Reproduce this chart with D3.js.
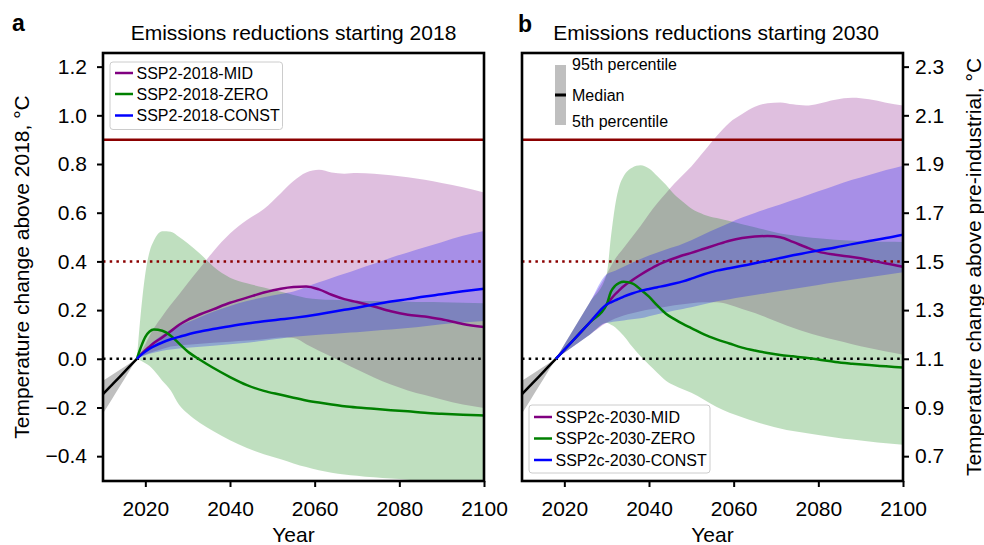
<!DOCTYPE html>
<html><head><meta charset="utf-8">
<script src="https://cdn.jsdelivr.net/npm/d3@7"></script>
<style>body{margin:0;background:#fff}svg{display:block;font-family:"Liberation Sans",Arial,Helvetica,sans-serif}</style>
</head><body><svg id="c" width="984" height="545"></svg>
<script>
// ---------- DATA ----------
const histYears = [2010, 2012, 2014, 2016, 2018];
const histMed = [-0.145, -0.109, -0.073, -0.036, 0];
const histLo  = [-0.225, -0.169, -0.113, -0.056, 0];
const histHi  = [-0.09, -0.068, -0.045, -0.022, 0];

const yearsA = [2018, 2019, 2020, 2021, 2022, 2024, 2026, 2028, 2030, 2033, 2036, 2040, 2044, 2048, 2052, 2055, 2058, 2061, 2064, 2067, 2070, 2074, 2078, 2082, 2086, 2090, 2095, 2100];
const aMidMed = [0, 0.018, 0.035, 0.05, 0.065, 0.088, 0.113, 0.14, 0.16, 0.183, 0.203, 0.23, 0.251, 0.272, 0.288, 0.295, 0.297, 0.285, 0.263, 0.245, 0.233, 0.215, 0.195, 0.181, 0.174, 0.162, 0.143, 0.13];
const aMidHi  = [0, 0.03, 0.06, 0.095, 0.125, 0.175, 0.222, 0.265, 0.31, 0.375, 0.44, 0.515, 0.57, 0.615, 0.68, 0.73, 0.765, 0.776, 0.765, 0.76, 0.763, 0.76, 0.754, 0.746, 0.735, 0.722, 0.705, 0.683];
const aMidLo  = [0, 0.01, 0.017, 0.024, 0.03, 0.04, 0.05, 0.055, 0.058, 0.062, 0.066, 0.07, 0.075, 0.08, 0.087, 0.085, 0.06, 0.033, 0.008, -0.018, -0.044, -0.077, -0.106, -0.13, -0.149, -0.167, -0.188, -0.202];
const aZeroMed = [0, 0.05, 0.09, 0.112, 0.12, 0.115, 0.095, 0.062, 0.03, -0.005, -0.037, -0.075, -0.108, -0.132, -0.148, -0.16, -0.171, -0.18, -0.188, -0.195, -0.2, -0.205, -0.211, -0.216, -0.222, -0.226, -0.23, -0.233];
const aZeroHi  = [0, 0.2, 0.35, 0.44, 0.485, 0.524, 0.522, 0.5, 0.475, 0.43, 0.38, 0.333, 0.31, 0.293, 0.275, 0.262, 0.25, 0.245, 0.242, 0.24, 0.238, 0.237, 0.236, 0.234, 0.233, 0.232, 0.23, 0.228];
const aZeroLo  = [0, -0.008, -0.018, -0.03, -0.047, -0.09, -0.13, -0.19, -0.225, -0.265, -0.297, -0.335, -0.366, -0.392, -0.413, -0.43, -0.445, -0.458, -0.468, -0.475, -0.48, -0.487, -0.492, -0.497, -0.502, -0.505, -0.508, -0.51];
const aConstMed = [0, 0.016, 0.03, 0.042, 0.051, 0.067, 0.08, 0.09, 0.1, 0.112, 0.122, 0.134, 0.145, 0.154, 0.162, 0.168, 0.175, 0.183, 0.192, 0.201, 0.21, 0.223, 0.235, 0.245, 0.256, 0.265, 0.277, 0.288];
const aConstHi  = [0, 0.02, 0.04, 0.058, 0.072, 0.098, 0.12, 0.136, 0.15, 0.172, 0.193, 0.217, 0.237, 0.253, 0.266, 0.276, 0.295, 0.314, 0.332, 0.349, 0.367, 0.39, 0.415, 0.437, 0.458, 0.479, 0.505, 0.525];
const aConstLo  = [0, 0.008, 0.015, 0.021, 0.025, 0.033, 0.038, 0.042, 0.045, 0.049, 0.054, 0.06, 0.066, 0.074, 0.083, 0.09, 0.095, 0.099, 0.102, 0.106, 0.109, 0.115, 0.12, 0.126, 0.134, 0.142, 0.149, 0.155];

const yearsB = [2018, 2022, 2026, 2030, 2031, 2032, 2033, 2034, 2036, 2038, 2040, 2042, 2044, 2046, 2048, 2050, 2053, 2056, 2059, 2062, 2065, 2068, 2071, 2074, 2077, 2080, 2084, 2088, 2092, 2096, 2100];
const bMidMed = [0, 0.074, 0.149, 0.223, 0.245, 0.265, 0.282, 0.298, 0.322, 0.345, 0.366, 0.385, 0.4, 0.413, 0.425, 0.435, 0.452, 0.469, 0.485, 0.496, 0.502, 0.504, 0.499, 0.48, 0.459, 0.44, 0.427, 0.418, 0.406, 0.391, 0.378];
const bMidHi  = [0, 0.116, 0.231, 0.347, 0.38, 0.41, 0.433, 0.455, 0.5, 0.545, 0.595, 0.64, 0.68, 0.72, 0.755, 0.79, 0.852, 0.915, 0.97, 1.005, 1.035, 1.05, 1.053, 1.045, 1.04, 1.048, 1.064, 1.072, 1.066, 1.052, 1.04];
const bMidLo  = [0, 0.049, 0.099, 0.148, 0.157, 0.165, 0.172, 0.178, 0.187, 0.195, 0.202, 0.208, 0.214, 0.22, 0.224, 0.228, 0.232, 0.232, 0.222, 0.205, 0.188, 0.168, 0.147, 0.127, 0.11, 0.095, 0.077, 0.06, 0.044, 0.03, 0.017];
const bZeroMed = [0, 0.074, 0.149, 0.223, 0.275, 0.3, 0.312, 0.316, 0.31, 0.285, 0.255, 0.218, 0.185, 0.163, 0.143, 0.126, 0.1, 0.08, 0.063, 0.046, 0.034, 0.024, 0.016, 0.01, 0.004, -0.003, -0.013, -0.02, -0.026, -0.031, -0.036];
const bZeroHi  = [0, 0.116, 0.231, 0.347, 0.5, 0.63, 0.71, 0.75, 0.785, 0.795, 0.782, 0.75, 0.715, 0.675, 0.645, 0.617, 0.592, 0.578, 0.566, 0.553, 0.54, 0.527, 0.515, 0.507, 0.5, 0.495, 0.489, 0.485, 0.482, 0.481, 0.48];
const bZeroLo  = [0, 0.049, 0.099, 0.148, 0.14, 0.13, 0.113, 0.095, 0.05, 0.01, -0.025, -0.058, -0.09, -0.11, -0.125, -0.14, -0.168, -0.198, -0.222, -0.24, -0.258, -0.273, -0.286, -0.297, -0.305, -0.313, -0.323, -0.332, -0.34, -0.347, -0.353];
const bConstMed = [0, 0.074, 0.149, 0.223, 0.232, 0.24, 0.247, 0.255, 0.268, 0.279, 0.287, 0.294, 0.301, 0.309, 0.318, 0.329, 0.347, 0.362, 0.372, 0.382, 0.392, 0.403, 0.414, 0.425, 0.435, 0.445, 0.457, 0.471, 0.484, 0.496, 0.51];
const bConstHi  = [0, 0.116, 0.231, 0.347, 0.355, 0.362, 0.37, 0.378, 0.394, 0.41, 0.424, 0.437, 0.449, 0.46, 0.473, 0.487, 0.512, 0.535, 0.558, 0.58, 0.599, 0.617, 0.634, 0.652, 0.67, 0.688, 0.712, 0.735, 0.755, 0.775, 0.793];
const bConstLo  = [0, 0.049, 0.099, 0.148, 0.15, 0.153, 0.155, 0.157, 0.162, 0.166, 0.175, 0.183, 0.19, 0.198, 0.205, 0.212, 0.224, 0.236, 0.245, 0.254, 0.262, 0.27, 0.278, 0.287, 0.295, 0.303, 0.314, 0.325, 0.335, 0.345, 0.355];

const xTicks = [2020, 2040, 2060, 2080, 2100];
const yTicksLeft = [-0.4, -0.2, 0.0, 0.2, 0.4, 0.6, 0.8, 1.0, 1.2];
const yTicksRight = [0.7, 0.9, 1.1, 1.3, 1.5, 1.7, 1.9, 2.1, 2.3];
const preIndOffset = 1.1;
const thresholdSolid = 0.9, thresholdDotted = 0.4;
const legendA = ["SSP2-2018-MID", "SSP2-2018-ZERO", "SSP2-2018-CONST"];
const legendB = ["SSP2c-2030-MID", "SSP2c-2030-ZERO", "SSP2c-2030-CONST"];
const pctLabels = ["95th percentile", "Median", "5th percentile"];
const colors = ["#800080", "#008000", "#0000ff"];

// ---------- DRAW ----------
const svg = d3.select('#c');
const TOP = 53, BOT = 481;
const yDom = [-0.502, 1.256];
const FS = 21;

function zip(ts, m, lo, hi) { return ts.map((t, i) => ({t, m: m[i], lo: lo ? lo[i] : 0, hi: hi ? hi[i] : 0})); }

function styleAxis(a) {
  a.select('.domain').remove();
  a.selectAll('.tick line').attr('stroke', '#000').attr('stroke-width', 2);
  a.selectAll('.tick text').attr('font-size', FS).attr('fill', '#000').attr('font-family', 'Liberation Sans, Arial, sans-serif');
}

function drawPanel(id, xr, years, series) {
  const x = d3.scaleLinear().domain([2010, 2100]).range(xr);
  const y = d3.scaleLinear().domain(yDom).range([BOT, TOP]);
  svg.append('clipPath').attr('id', id).append('rect')
    .attr('x', xr[0]).attr('y', TOP).attr('width', xr[1] - xr[0]).attr('height', BOT - TOP);
  const g = svg.append('g').attr('clip-path', `url(#${id})`);
  const area = d3.area().x(d => x(d.t)).y0(d => y(d.lo)).y1(d => y(d.hi)).curve(d3.curveMonotoneX);
  const line = d3.line().x(d => x(d.t)).y(d => y(d.m)).curve(d3.curveMonotoneX);
  const hist = zip(histYears, histMed, histLo, histHi);
  g.append('path').datum(hist).attr('d', area).attr('fill', '#000').attr('fill-opacity', 0.25);
  series.forEach((s, i) => {
    g.append('path').datum(zip(years, s[0], s[1], s[2])).attr('d', area)
      .attr('fill', colors[i]).attr('fill-opacity', 0.25);
  });
  g.append('line').attr('x1', xr[0]).attr('x2', xr[1]).attr('y1', y(thresholdSolid)).attr('y2', y(thresholdSolid))
    .attr('stroke', '#8b0000').attr('stroke-width', 2.5);
  g.append('line').attr('x1', xr[0]).attr('x2', xr[1]).attr('y1', y(thresholdDotted)).attr('y2', y(thresholdDotted))
    .attr('stroke', '#8b0000').attr('stroke-width', 2.5).attr('stroke-dasharray', '2.5,4.2');
  g.append('line').attr('x1', xr[0]).attr('x2', xr[1]).attr('y1', y(0)).attr('y2', y(0))
    .attr('stroke', '#000').attr('stroke-width', 2.5).attr('stroke-dasharray', '2.5,4.2');
  g.append('path').datum(hist).attr('d', line).attr('fill', 'none').attr('stroke', '#000').attr('stroke-width', 2.5);
  series.forEach((s, i) => {
    g.append('path').datum(zip(years, s[0])).attr('d', line).attr('fill', 'none')
      .attr('stroke', colors[i]).attr('stroke-width', 2.5);
  });
  const ax = svg.append('g').attr('transform', `translate(0,${BOT})`)
    .call(d3.axisBottom(x).tickValues(xTicks).tickFormat(d3.format('d')).tickSize(6).tickPadding(14));
  styleAxis(ax);
  svg.append('rect').attr('x', xr[0]).attr('y', TOP).attr('width', xr[1] - xr[0]).attr('height', BOT - TOP)
    .attr('fill', 'none').attr('stroke', '#000').attr('stroke-width', 2.6);
  return {x, y};
}

const pA = drawPanel('clipA', [103, 484], yearsA, [[aMidMed, aMidLo, aMidHi], [aZeroMed, aZeroLo, aZeroHi], [aConstMed, aConstLo, aConstHi]]);
const pB = drawPanel('clipB', [522, 903], yearsB, [[bMidMed, bMidLo, bMidHi], [bZeroMed, bZeroLo, bZeroHi], [bConstMed, bConstLo, bConstHi]]);

const ayl = svg.append('g').attr('transform', 'translate(103,0)')
  .call(d3.axisLeft(pA.y).tickValues(yTicksLeft).tickFormat(d3.format('.1f')).tickSize(6).tickPadding(10));
styleAxis(ayl);
const yR = d3.scaleLinear().domain(yDom.map(v => v + preIndOffset)).range([BOT, TOP]);
const ayr = svg.append('g').attr('transform', 'translate(903,0)')
  .call(d3.axisRight(yR).tickValues(yTicksRight).tickFormat(d3.format('.1f')).tickSize(6).tickPadding(6));
styleAxis(ayr);

function txt(x, y, s, opt = {}) {
  const t = svg.append('text').attr('x', x).attr('y', y).text(s).attr('font-size', opt.fs || FS)
    .attr('text-anchor', opt.anchor || 'middle').attr('fill', '#000');
  if (opt.bold) t.attr('font-weight', 'bold');
  if (opt.rot) t.attr('transform', `rotate(${opt.rot},${x},${y})`);
  if (opt.dy) t.attr('dy', opt.dy);
  return t;
}
txt(293.5, 39.5, 'Emissions reductions starting 2018');
txt(716, 39.5, 'Emissions reductions starting 2030');
txt(12, 31, 'a', {fs: 23, bold: true, anchor: 'start'});
txt(518, 32, 'b', {fs: 23, bold: true, anchor: 'start'});
txt(293.5, 542, 'Year');
txt(712.5, 542, 'Year');
txt(29, 267, 'Temperature change above 2018, \u00B0C', {rot: -90});
txt(981, 267, 'Temperature change above pre-industrial, \u00B0C', {rot: -90});

function legend(x0, y0, w, h, rows, labels) {
  svg.append('rect').attr('x', x0).attr('y', y0).attr('width', w).attr('height', h).attr('rx', 3)
    .attr('fill', '#fff').attr('fill-opacity', 0.8).attr('stroke', '#cccccc').attr('stroke-width', 1);
  labels.forEach((l, i) => {
    svg.append('line').attr('x1', x0 + 5).attr('x2', x0 + 23).attr('y1', rows[i]).attr('y2', rows[i])
      .attr('stroke', colors[i]).attr('stroke-width', 2.5);
    txt(x0 + 26.5, rows[i], l, {fs: 16, anchor: 'start', dy: '0.35em'});
  });
}
legend(110, 62, 172.5, 67.5, [73, 94, 115.5], legendA);
legend(529, 405, 181, 68, [417, 438.5, 460], legendB);

svg.append('rect').attr('x', 555).attr('y', 65).attr('width', 11).attr('height', 60).attr('fill', '#bfbfbf');
svg.append('rect').attr('x', 555).attr('y', 93.5).attr('width', 11).attr('height', 3).attr('fill', '#000');
[64, 95, 121].forEach((yy, i) => txt(572, yy, pctLabels[i], {fs: 16, anchor: 'start', dy: '0.35em'}));
</script></body></html>
